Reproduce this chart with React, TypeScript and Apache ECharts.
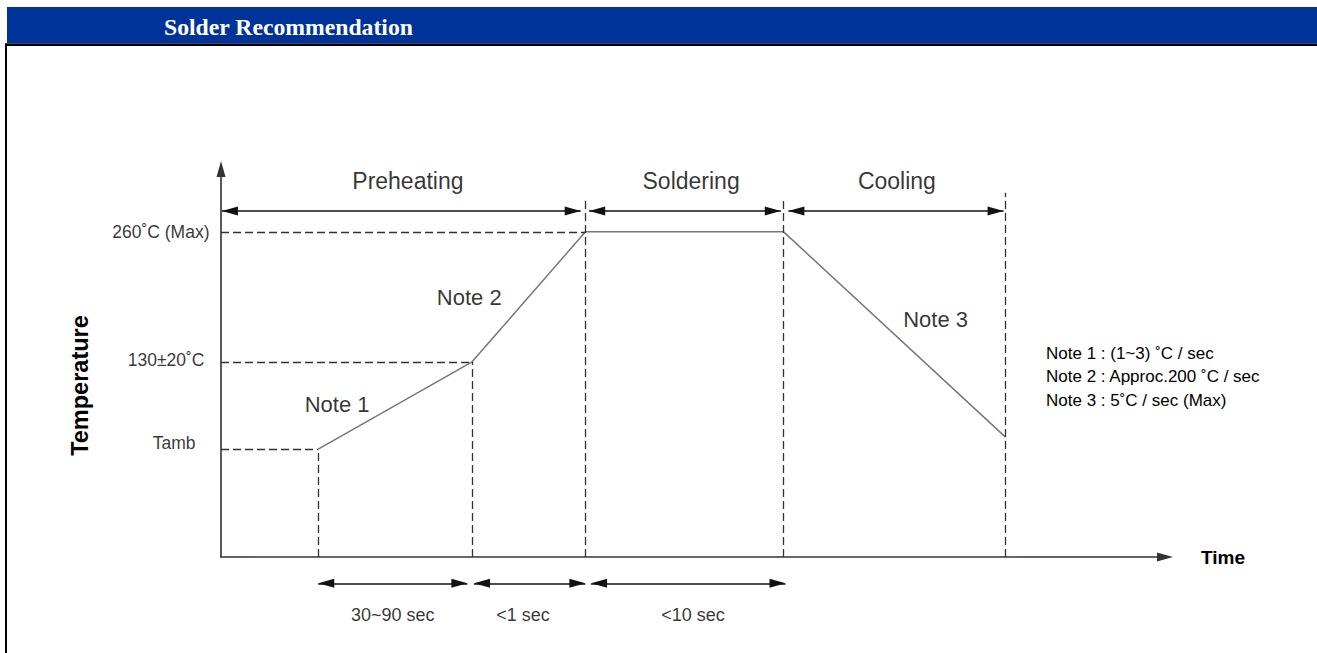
import { useEffect, useRef } from 'react';
import * as echarts from 'echarts';

const FONT = '"Liberation Sans", Arial, sans-serif';
const SERIF = '"Liberation Serif", "Times New Roman", serif';

// ---- data (abstract units: time 0..100, level 0..100) ----
const profileTime = [10.3, 26.6, 38.6, 59.6, 83.1];
const profileLevel = [27.8, 50.3, 83.8, 83.8, 30.9];

const levelLabels = ['Tamb', '130±20˚C', '260˚C (Max)'];
const levels = [27.8, 50.3, 83.8];

const boundaryTop = [92.6, 92.5, 93.9]; // dashed phase boundaries at profileTime[2..4]

const phaseNames = ['Preheating', 'Soldering', 'Cooling'];
const phaseStart = [0.1, 39.0, 60.1];
const phaseEnd = [38.1, 59.3, 82.9];
const phaseArrowLevel = 89.2;
const phaseLabelTime = [19.8, 49.8, 71.6];
const phaseLabelLevel = 97.0;

const noteNames = ['Note 1', 'Note 2', 'Note 3'];
const noteTime = [12.3, 26.3, 75.7];
const noteLevel = [39.3, 66.8, 61.3];

const durationNames = ['30~90 sec', '<1 sec', '<10 sec'];
const durationStart = [10.3, 26.8, 39.2];
const durationEnd = [26.1, 38.6, 59.8];
const durationArrowLevel = 7.78;
const durationLabelTime = [18.2, 32.0, 50.0];
const durationLabelLevel = 2.5;

const noteLines = ['Note 1 : (1~3) ˚C / sec', 'Note 2 : Approc.200 ˚C / sec', 'Note 3 : 5˚C / sec (Max)'];

function buildOption() {
  const TEXT = '#000';
  const arrowEnd = (x: number, y: number) => ({ coord: [x, y], symbolOffset: [0, 8] });
  const arrowMarkLine = (pairs: any[]) => ({
    silent: true,
    symbol: ['triangle', 'triangle'],
    symbolSize: [9, 16],
    label: { show: false },
    lineStyle: { type: 'solid', color: '#111', width: 1.6 },
    itemStyle: { color: '#111' },
    emphasis: { disabled: true },
    data: pairs,
  });

  const guidePairs: any[] = [];
  levels.forEach((lv, i) => {
    guidePairs.push([{ coord: [0, lv] }, { coord: [profileTime[i], lv] }]);
  });
  [0, 1].forEach((i) => {
    guidePairs.push([{ coord: [profileTime[i], 0] }, { coord: [profileTime[i], profileLevel[i]] }]);
  });
  [2, 3, 4].forEach((i, j) => {
    guidePairs.push([{ coord: [profileTime[i], 0] }, { coord: [profileTime[i], boundaryTop[j]] }]);
  });

  const levelGap = [25, 16, 11];
  const levelShift = [-6, -1.5, 0];

  const labelSeries = (xi: number, items: any[]) => ({
    type: 'scatter',
    xAxisIndex: xi,
    yAxisIndex: xi,
    symbol: 'circle',
    symbolSize: 1,
    clip: false,
    silent: true,
    itemStyle: { color: 'rgba(0,0,0,0)' },
    label: { show: true, formatter: '{b}', color: TEXT, fontFamily: FONT, position: 'inside' },
    data: items,
  });

  const axisLineStyle = { color: '#333', width: 1.6 };

  return {
    animation: false,
    grid: [
      { left: 221, right: 152, top: 169, bottom: 96 },
      { left: 221, right: 152, top: 570, height: 60 },
    ],
    xAxis: [
      {
        gridIndex: 0, type: 'value', min: 0, max: 100,
        axisLine: { show: true, onZero: false, symbol: ['none', 'triangle'], symbolSize: [9, 16], lineStyle: axisLineStyle },
        axisTick: { show: false }, axisLabel: { show: false }, splitLine: { show: false },
        name: 'Time', nameLocation: 'end', nameGap: 36,
        nameTextStyle: { fontFamily: FONT, fontWeight: 'bold', fontSize: 19, color: TEXT },
      },
      { gridIndex: 1, type: 'value', min: 0, max: 100, show: false },
    ],
    yAxis: [
      {
        gridIndex: 0, type: 'value', min: 0, max: 100,
        axisLine: { show: true, onZero: false, symbol: ['none', 'triangle'], symbolSize: [9, 16], lineStyle: axisLineStyle },
        axisTick: { show: false }, axisLabel: { show: false }, splitLine: { show: false },
      },
      { gridIndex: 1, type: 'value', min: 0, max: 10, show: false },
    ],
    graphic: [
      { type: 'rect', shape: { x: 7, y: 7, width: 1310, height: 36.5 }, style: { fill: '#003399' }, silent: true },
      { type: 'rect', shape: { x: 5, y: 43.5, width: 1312, height: 2.5 }, style: { fill: '#000' }, silent: true },
      { type: 'rect', shape: { x: 5, y: 43.5, width: 2, height: 610 }, style: { fill: '#000' }, silent: true },
      {
        type: 'text', x: 164, y: 27, silent: true,
        style: { text: 'Solder Recommendation', fill: '#fff', fontFamily: SERIF, fontWeight: 'bold', fontSize: 23.7, verticalAlign: 'middle', align: 'left' },
      },
      {
        type: 'text', x: 79.5, y: 385.5, rotation: Math.PI / 2, silent: true,
        style: { text: 'Temperature', fill: TEXT, fontFamily: FONT, fontWeight: 'bold', fontSize: 23.5, align: 'center', verticalAlign: 'middle' },
      },
      {
        type: 'text', x: 1046, y: 341.25, silent: true,
        style: { text: noteLines.join('\n'), fill: TEXT, fontFamily: FONT, fontSize: 17, lineHeight: 23.5, align: 'left', verticalAlign: 'top' },
      },
    ],
    series: [
      {
        type: 'line', xAxisIndex: 0, yAxisIndex: 0, silent: true, symbol: 'none', z: 3,
        lineStyle: { color: '#777', width: 1.5 },
        data: profileTime.map((t, i) => [t, profileLevel[i]]),
      },
      {
        type: 'line', xAxisIndex: 0, yAxisIndex: 0, silent: true, symbol: 'none', data: [],
        markLine: {
          silent: true, symbol: ['none', 'none'], label: { show: false },
          lineStyle: { type: [8, 4], color: '#333', width: 1.3 },
          emphasis: { disabled: true },
          data: guidePairs,
        },
      },
      {
        type: 'line', xAxisIndex: 0, yAxisIndex: 0, silent: true, symbol: 'none', data: [],
        markLine: arrowMarkLine(phaseStart.map((s, i) => [arrowEnd(s, phaseArrowLevel), arrowEnd(phaseEnd[i], phaseArrowLevel)])),
      },
      labelSeries(0, [
        ...phaseNames.map((n, i) => ({ name: n, value: [phaseLabelTime[i], phaseLabelLevel], label: { fontSize: 23 } })),
        ...noteNames.map((n, i) => ({ name: n, value: [noteTime[i], noteLevel[i]], label: { fontSize: 22 } })),
        ...levelLabels.map((n, i) => ({
          name: n, value: [0, levels[i]],
          label: { fontSize: 17.5, position: 'left', distance: levelGap[i], offset: [0, levelShift[i]] },
        })),
      ]),
      {
        ...labelSeries(1, durationNames.map((n, i) => ({ name: n, value: [durationLabelTime[i], durationLabelLevel], label: { fontSize: 18 } }))),
        markLine: arrowMarkLine(durationStart.map((s, i) => [arrowEnd(s, durationArrowLevel), arrowEnd(durationEnd[i], durationArrowLevel)])),
      },
    ],
  };
}

export default function App() {
  const ref = useRef<HTMLDivElement>(null);
  useEffect(() => {
    const chart = echarts.init(ref.current!, null, { renderer: 'svg' });
    chart.setOption(buildOption() as any);
    return () => chart.dispose();
  }, []);
  return <div ref={ref} style={{ position: 'absolute', left: 0, top: 0, width: 1317, height: 653 }} />;
}
